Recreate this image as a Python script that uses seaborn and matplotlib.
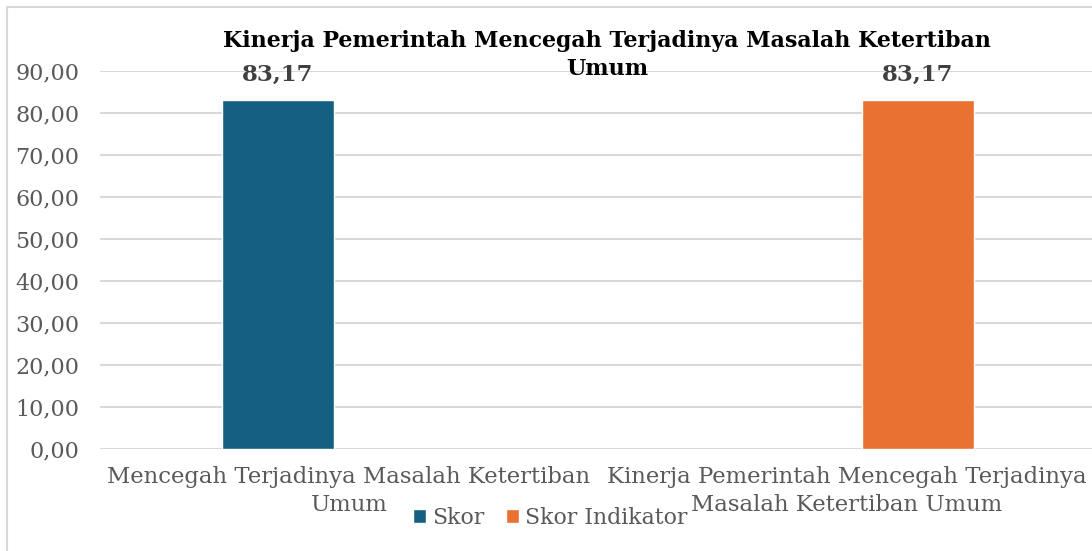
import matplotlib
matplotlib.use("Agg")
import matplotlib.pyplot as plt
from matplotlib.patches import Rectangle
from matplotlib.ticker import FuncFormatter
import seaborn as sns
import pandas as pd

# Chart data
categories = [
    "Mencegah Terjadinya Masalah Ketertiban\nUmum",
    "Kinerja Pemerintah Mencegah Terjadinya\nMasalah Ketertiban Umum",
]
series = ["Skor", "Skor Indikator"]
values = [83.17, 83.17]
colors = ["#156082", "#E97132"]
title_lines = ["Kinerja Pemerintah Mencegah Terjadinya Masalah Ketertiban", "Umum"]
y_ticks = [0, 10, 20, 30, 40, 50, 60, 70, 80, 90]

df = pd.DataFrame({"Kategori": categories, "Seri": series, "Nilai": values})

sns.set_theme(style="white")
plt.rcParams["font.family"] = ["DejaVu Serif"]

text_gray = "#595959"
grid_gray = "#D9D9D9"

W, H = 1092, 551
fig = plt.figure(figsize=(W / 100, H / 100), dpi=100)
ax = fig.add_axes([100 / W, 0.1851, 996 / W, 0.686])

sns.barplot(
    data=df, x="Kategori", y="Nilai", hue="Seri",
    order=categories, hue_order=series, palette=colors,
    width=0.57, gap=0.21, dodge=True, saturation=1, ax=ax,
)

ax.set_xlim(-0.5, 1.5)
ax.set_ylim(0, 90)
ax.set_yticks(y_ticks)
ax.yaxis.set_major_formatter(FuncFormatter(lambda v, _: f"{v:.2f}".replace(".", ",")))
ax.grid(axis="y", color=grid_gray, lw=1.5)
ax.set_axisbelow(True)
for s in ax.spines.values():
    s.set_visible(False)
ax.set_xlabel("")
ax.set_ylabel("")
ax.tick_params(axis="y", length=0, pad=15, labelsize=16, labelcolor=text_gray)
ax.tick_params(axis="x", length=0, pad=12, labelsize=16.4, labelcolor=text_gray)
for lbl in ax.get_xticklabels():
    lbl.set_linespacing(1.4)

# Value labels above the bars
for cont in ax.containers:
    ax.bar_label(
        cont, labels=[f"{v:.2f}".replace(".", ",") for v in cont.datavalues],
        padding=10, fontsize=16.5, fontweight="bold", color="#404040",
    )

# Legend below the category labels
handles, labels = ax.get_legend_handles_labels()
ax.legend_.remove()
fig.legend(
    handles, labels, loc="center", bbox_to_anchor=(550 / W, 1 - 518 / H),
    ncol=2, frameon=False, fontsize=15.8, labelcolor=text_gray,
    handlelength=0.6, handleheight=0.6, handletextpad=0.25, columnspacing=1.0,
    borderaxespad=0, borderpad=0,
)

# Two-line chart title
for line, base in zip(title_lines, [47, 75]):
    fig.text(607 / W, 1 - base / H, line, ha="center", va="baseline",
             fontsize=15.9, fontweight="bold", color="black")

# Chart frame
fig.patches.append(Rectangle((7 / W, -0.1), 2, 1 - 7 / H + 0.1, fill=False,
                             edgecolor=grid_gray, lw=1.5, transform=fig.transFigure))

fig.savefig("out.png", dpi=100)
